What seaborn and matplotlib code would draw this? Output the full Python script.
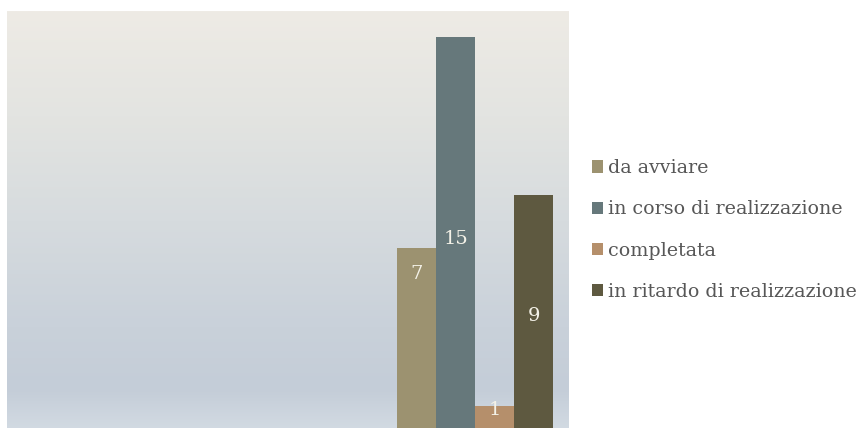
import numpy as np
import pandas as pd
import matplotlib
matplotlib.use("Agg")
import matplotlib.pyplot as plt
from matplotlib.colors import LinearSegmentedColormap
from matplotlib.patches import Patch
import seaborn as sns

# ---- data ----
categorie = [""]
stati = ["da avviare", "in corso di realizzazione", "completata", "in ritardo di realizzazione"]
valori = [7, 15, 1, 9]
colori = ["#9C9270", "#66787B", "#B58F6B", "#5E5940"]
# label placement (fraction of value) as in the original
label_frac = [0.86, 0.49, 0.85, 0.49]

df = pd.DataFrame({"categoria": categorie * len(stati), "stato": stati, "valore": valori})
palette = dict(zip(stati, colori))

sns.set_theme(style="white")
plt.rcParams["font.family"] = ["DejaVu Serif"]

fig = plt.figure(figsize=(8.62, 4.28), dpi=100)
fig.patch.set_facecolor("white")
ax = fig.add_axes([7 / 862, -4 / 428, 562 / 862, 421 / 428])

# gradient background
grad_cmap = LinearSegmentedColormap.from_list(
    "bg",
    [(0.0, "#EEEBE5"), (0.25, "#E3E4E1"), (0.5, "#D6DBDE"), (0.75, "#C9D1DA"),
     (0.9, "#C4CDD8"), (1.0, "#D3DBE3")],
)
ax.imshow(np.linspace(0, 1, 256).reshape(-1, 1), aspect="auto", cmap=grad_cmap,
          extent=[0, 1, 0, 1], transform=ax.transAxes, zorder=0)

sns.barplot(data=df, x="categoria", y="valore", hue="stato", hue_order=stati,
            palette=palette, width=0.834, gap=0, saturation=1, ax=ax,
            legend=False, zorder=2, edgecolor="none", linewidth=0)

ax.set_xlim(-2.5, 0.5)
ax.set_ylim(0, 16)
ax.set_xlabel("")
ax.set_ylabel("")
ax.set_xticks([])
ax.set_yticks([])
for s in ax.spines.values():
    s.set_visible(False)

# value labels
for cont, v, f in zip(ax.containers, valori, label_frac):
    for bar in cont:
        xc = bar.get_x() + bar.get_width() / 2
        ax.text(xc, v * f, str(v), ha="center", va="center", color="#F4F2E8",
                fontsize=14, zorder=3)

handles = [Patch(facecolor=palette[s], edgecolor="none", label=s) for s in stati]
fig.legend(handles=handles, loc="center left", bbox_to_anchor=(592 / 862, 1 - 230 / 428),
           frameon=False, fontsize=13.7, handlelength=0.6, handleheight=0.6,
           handletextpad=0.22, labelspacing=1.22, labelcolor="#575757",
           borderaxespad=0, borderpad=0)

fig.savefig("out.png", dpi=100, facecolor="white")
